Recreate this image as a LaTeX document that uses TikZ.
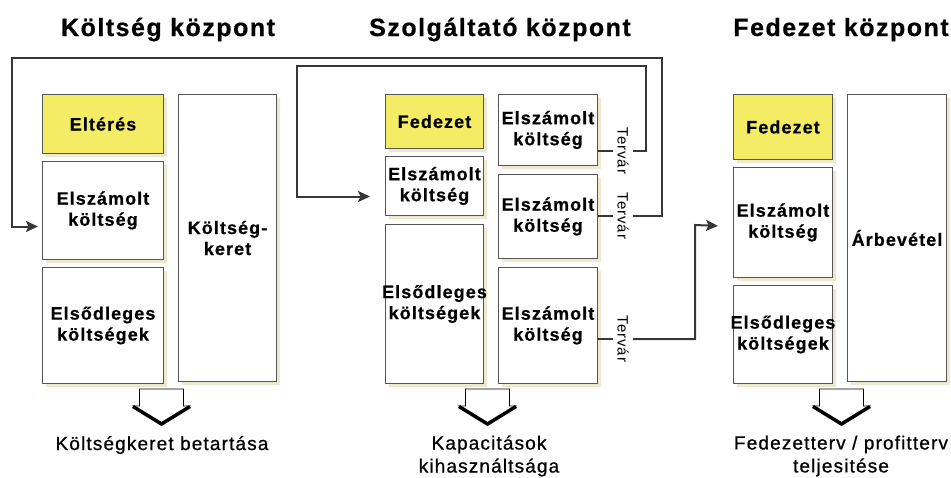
\documentclass[tikz,border=0pt]{standalone}
\usepackage{fontspec}
\setmainfont{Liberation Sans}[LetterSpace=6.0]
\usetikzlibrary{arrows.meta,positioning,calc,shadows}
\definecolor{planyellow}{RGB}{245,236,102}
\definecolor{shadowcream}{RGB}{236,233,208}
\definecolor{boxline}{RGB}{85,85,85}
\definecolor{linkgray}{RGB}{55,55,55}
\newcommand{\overwide}[1]{\makebox[0pt]{#1}}

\tikzset{
  box/.style={draw=boxline, fill=white, line width=1pt, inner sep=0pt, align=center,
    font=\fontsize{18}{21}\selectfont\bfseries\addfontfeature{FakeBold=0.6},
    drop shadow={shadow xshift=3pt, shadow yshift=-3pt, fill=shadowcream, opacity=1}},
  resultbox/.style={box, fill=planyellow},
  title/.style={font=\fontsize{25}{30}\selectfont\bfseries\addfontfeature{FakeBold=0.6}, inner sep=0pt, anchor=base},
  outcome/.style={font=\fontsize{19}{23}\selectfont\addfontfeature{FakeBold=0.8}, align=center, inner sep=0pt},
  tervar/.style={font=\fontsize{15}{15}\selectfont, rotate=-90, inner sep=4pt},
  link/.style={draw=linkgray, line width=2pt},
  linkarrow/.style={link, -{Stealth[length=12pt, width=11pt, inset=2.5pt]}}
}

\begin{document}
\begin{tikzpicture}[x=1pt, y=-1pt]
  \useasboundingbox (0,0) rectangle (951,477);
  % titles
  \node[title] (kktitle) at (168,36) {Költség központ};
  \node[title] (sztitle) at (500,36) {Szolgáltató központ};
  \node[title] (fktitle) at (841,36) {Fedezet központ};

  % Koltseg kozpont
  \node[resultbox, minimum width=121, minimum height=59, anchor=north west] (kkelt) at (42,94) {Eltérés};
  \node[box, minimum width=121, minimum height=98, below=7pt of kkelt] (kkesz) {Elszámolt\\költség};
  \node[box, minimum width=121, minimum height=116, below=7pt of kkesz] (kkels) {Elsődleges\\költségek};
  \node[box, minimum width=98, minimum height=287, anchor=north west] (kkker) at (178,94) {Költség-\\keret};

  % Szolgaltato kozpont
  \node[resultbox, minimum width=98, minimum height=54, anchor=north west] (szfed) at (385,94) {Fedezet};
  \node[box, minimum width=98, minimum height=59, below=7pt of szfed] (szesz) {Elszámolt\\költség};
  \node[box, minimum width=98, minimum height=159, below=8pt of szesz] (szels) {\overwide{Elsődleges}\\költségek};
  \node[box, minimum width=99, minimum height=71, anchor=north west] (szr1) at (498,94) {Elszámolt\\költség};
  \node[box, minimum width=99, minimum height=84, below=8pt of szr1] (szr2) {Elszámolt\\költség};
  \node[box, minimum width=99, minimum height=116, below=8pt of szr2] (szr3) {Elszámolt\\költség};

  % Fedezet kozpont
  \node[resultbox, minimum width=99, minimum height=65, anchor=north west] (fkfed) at (733,94) {Fedezet};
  \node[box, minimum width=99, minimum height=110, below=7pt of fkfed] (fkesz) {Elszámolt\\költség};
  \node[box, minimum width=99, minimum height=98, below=7pt of fkesz] (fkels) {\overwide{Elsődleges}\\költségek};
  \node[box, minimum width=99, minimum height=287, anchor=north west] (fkarb) at (847,94) {Árbevétel};

  % Tervar labels on the feedback lines
  \node[tervar] (tv1) at (623,151) {Tervár};
  \node[tervar] (tv2) at (623,216) {Tervár};
  \node[tervar] (tv3) at (623,339) {Tervár};

  % corners of the feedback loops
  \coordinate (inner ne) at (646,66);
  \coordinate (inner nw) at (297,66);
  \coordinate (outer ne) at (662,58);
  \coordinate (outer nw) at (12,58);
  \coordinate (right up) at (695,225);

  % feedback lines
  \draw[link] (szr1.east |- tv1) -- (tv1.south);
  \draw[linkarrow, shorten >=15pt] (tv1.north) -| (inner ne) -- (inner nw) |- ([yshift=-10.5pt]szesz.west);
  \draw[link] (szr2.east |- tv2) -- (tv2.south);
  \draw[linkarrow, shorten >=4pt] (tv2.north) -| (outer ne) -- (outer nw) |- ([yshift=-16pt]kkesz.west);
  \draw[link] (szr3.east |- tv3) -- (tv3.south);
  \draw[linkarrow, shorten >=15pt] (tv3.north) -| (right up) -- ([yshift=-4pt]fkesz.west);

  % hollow block arrows
  \foreach \cx in {161.5, 487.5, 841.5} {
    \filldraw[fill=white, draw=black, line width=0.8pt] (\cx-22,389) -- (\cx+22,389) -- (\cx+22,406)
      -- (\cx+28.5,406) -- (\cx,423) -- (\cx-28.5,406) -- (\cx-22,406) -- cycle;
    \draw[line width=3.5pt, line join=miter] (\cx-28.5,406.5) -- (\cx,424) -- (\cx+28.5,406.5);
  }

  % outcomes
  \node[outcome] (kkout) at (162,445) {Költségkeret betartása};
  \node[outcome] (szout) at (489,456) {Kapacitások\\kihasználtsága};
  \node[outcome] (fkout) at (841,456) {Fedezetterv / profitterv\\teljesitése};
\end{tikzpicture}
\end{document}
